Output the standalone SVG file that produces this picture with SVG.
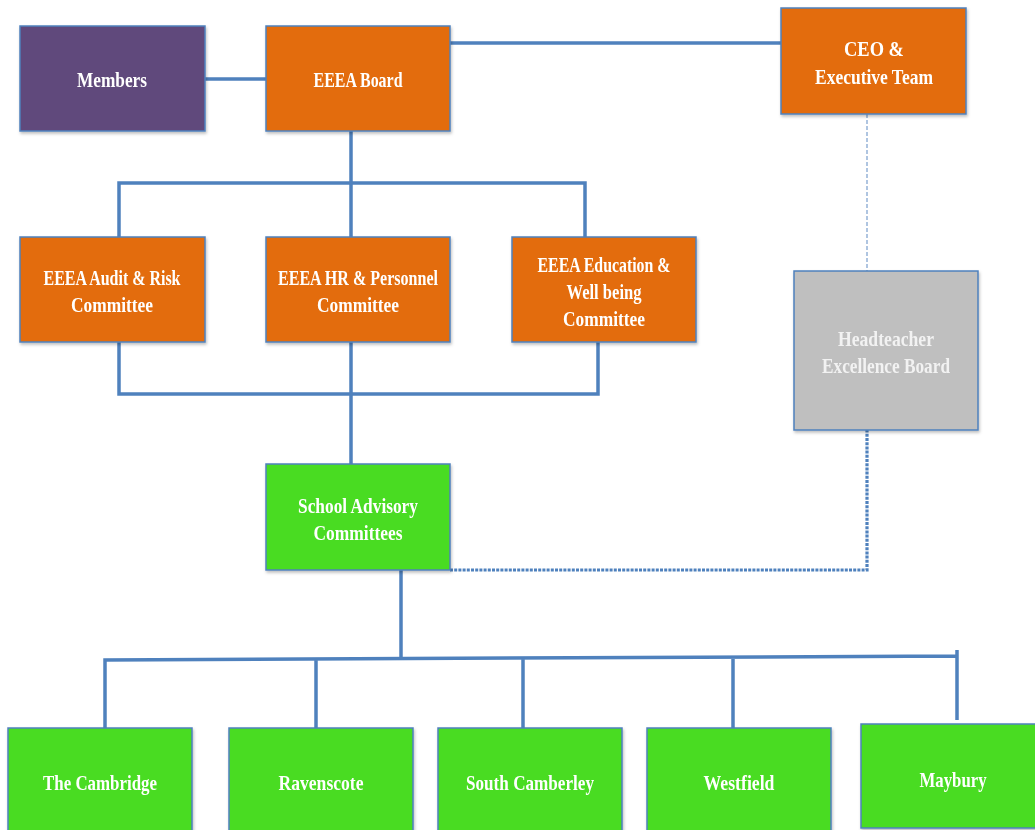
<svg xmlns="http://www.w3.org/2000/svg" width="1035" height="830" viewBox="0 0 1035 830">
<style>
.box{stroke:#4F81BD;stroke-width:1.5}
.orange{fill:#E36C0A}
.purple{fill:#604A7B}
.green{fill:#48DC20}
.gray{fill:#BFBFBF}
.t{font-family:"Liberation Serif","Times New Roman",serif;font-weight:bold;font-size:22px;fill:#FFFFFF;text-anchor:middle}
.tg{fill:#F2F2F2}
.c{fill:none;stroke:#4F81BD;stroke-width:3.5;stroke-linejoin:miter}
.dot{fill:none;stroke:#4F81BD;stroke-width:3.2;stroke-dasharray:3 1.2}
.dash{fill:none;stroke:#95B3D7;stroke-width:1.5;stroke-dasharray:4 2}
</style>
<defs>
<filter id="sh" x="-10%" y="-10%" width="120%" height="130%">
<feDropShadow dx="1" dy="2" stdDeviation="1.5" flood-color="#000" flood-opacity="0.25"/>
</filter>
</defs>
<rect width="1035" height="830" fill="#FFFFFF"/>
<g id="connectors">
<path class="c" d="M205,79 H266"/>
<path class="c" d="M450,43 H781"/>
<path class="c" d="M351,131 V183 M119,237 V183 H585 V237 M351,183 V237"/>
<path class="c" d="M119,342 V394 H598 V342 M351,342 V464"/>
<path class="dash" d="M867,114 V271"/>
<path class="dot" d="M450,570 H867 V430"/>
<path class="c" d="M401,570 V658"/>
<path class="c" d="M105,728 V660 L957,656 M316,728 V659 M523,728 V658 M733,728 V657 M957,650 V720"/>
</g>
<g id="members" filter="url(#sh)"><rect class="box purple" x="20" y="26" width="185" height="105"/><text class="t" x="112" y="87" textLength="70" lengthAdjust="spacingAndGlyphs">Members</text></g>
<g id="board" filter="url(#sh)"><rect class="box orange" x="266" y="26" width="184" height="105"/><text class="t" x="358" y="87" textLength="89" lengthAdjust="spacingAndGlyphs">EEEA Board</text></g>
<g id="ceo" filter="url(#sh)"><rect class="box orange" x="781" y="8" width="185" height="106"/><text class="t" x="874" y="56" textLength="60" lengthAdjust="spacingAndGlyphs">CEO &amp;</text><text class="t" x="874" y="84" textLength="118" lengthAdjust="spacingAndGlyphs">Executive Team</text></g>
<g id="audit" filter="url(#sh)"><rect class="box orange" x="20" y="237" width="185" height="105"/><text class="t" x="112" y="285" textLength="137" lengthAdjust="spacingAndGlyphs">EEEA Audit &amp; Risk</text><text class="t" x="112" y="312" textLength="82" lengthAdjust="spacingAndGlyphs">Committee</text></g>
<g id="hr" filter="url(#sh)"><rect class="box orange" x="266" y="237" width="184" height="105"/><text class="t" x="358" y="285" textLength="160" lengthAdjust="spacingAndGlyphs">EEEA HR &amp; Personnel</text><text class="t" x="358" y="312" textLength="82" lengthAdjust="spacingAndGlyphs">Committee</text></g>
<g id="education" filter="url(#sh)"><rect class="box orange" x="512" y="237" width="184" height="105"/><text class="t" x="604" y="272" textLength="133" lengthAdjust="spacingAndGlyphs">EEEA Education &amp;</text><text class="t" x="604" y="299" textLength="75" lengthAdjust="spacingAndGlyphs">Well being</text><text class="t" x="604" y="326" textLength="82" lengthAdjust="spacingAndGlyphs">Committee</text></g>
<g id="headteacher" filter="url(#sh)"><rect class="box gray" x="794" y="271" width="184" height="159"/><text class="t tg" x="886" y="346" textLength="96" lengthAdjust="spacingAndGlyphs">Headteacher</text><text class="t tg" x="886" y="373" textLength="128" lengthAdjust="spacingAndGlyphs">Excellence Board</text></g>
<g id="sac" filter="url(#sh)"><rect class="box green" x="266" y="464" width="184" height="106"/><text class="t" x="358" y="513" textLength="120" lengthAdjust="spacingAndGlyphs">School Advisory</text><text class="t" x="358" y="540" textLength="89" lengthAdjust="spacingAndGlyphs">Committees</text></g>
<g id="cambridge" filter="url(#sh)"><rect class="box green" x="8" y="728" width="184" height="106"/><text class="t" x="100" y="790" textLength="114" lengthAdjust="spacingAndGlyphs">The Cambridge</text></g>
<g id="ravenscote" filter="url(#sh)"><rect class="box green" x="229" y="728" width="184" height="106"/><text class="t" x="321" y="790" textLength="85" lengthAdjust="spacingAndGlyphs">Ravenscote</text></g>
<g id="southcamberley" filter="url(#sh)"><rect class="box green" x="438" y="728" width="184" height="106"/><text class="t" x="530" y="790" textLength="128" lengthAdjust="spacingAndGlyphs">South Camberley</text></g>
<g id="westfield" filter="url(#sh)"><rect class="box green" x="647" y="728" width="184" height="106"/><text class="t" x="739" y="790" textLength="71" lengthAdjust="spacingAndGlyphs">Westfield</text></g>
<g id="maybury" filter="url(#sh)"><rect class="box green" x="861" y="724" width="184" height="104"/><text class="t" x="953" y="787" textLength="67" lengthAdjust="spacingAndGlyphs">Maybury</text></g>
</svg>
